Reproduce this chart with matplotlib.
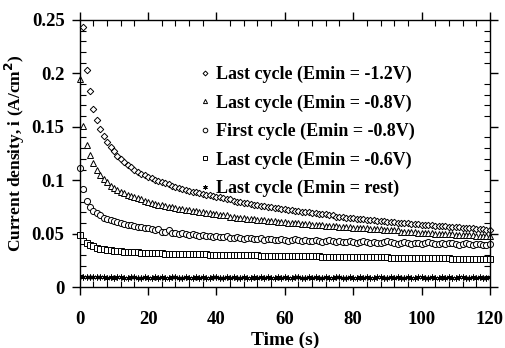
import numpy as np
import matplotlib
matplotlib.use('Agg')
import matplotlib.pyplot as plt
from matplotlib.ticker import MultipleLocator

plt.rcParams['font.family'] = ['Liberation Serif', 'DejaVu Serif']
plt.rcParams['font.weight'] = 'bold'
plt.rcParams['mathtext.default'] = 'bf'

# 时间 (s)
t_full = np.arange(0, 121)
t_from1 = np.arange(1, 121)

# Last cycle (Emin = -1.2V), t = 1..120
i_m12 = [0.243, 0.203, 0.183, 0.167, 0.156, 0.148, 0.141, 0.136, 0.131, 0.127,
         0.123, 0.120, 0.117, 0.114, 0.112, 0.110, 0.108, 0.106, 0.105, 0.103,
         0.102, 0.100, 0.099, 0.098, 0.097, 0.096, 0.095, 0.094, 0.093, 0.092,
         0.091, 0.090, 0.089, 0.089, 0.088, 0.087, 0.086, 0.086, 0.085, 0.084,
         0.084, 0.083, 0.082, 0.082, 0.081, 0.080, 0.080, 0.079, 0.079, 0.078,
         0.077, 0.077, 0.076, 0.076, 0.075, 0.075, 0.074, 0.074, 0.073, 0.073,
         0.072, 0.072, 0.071, 0.071, 0.070, 0.070, 0.070, 0.069, 0.069, 0.068,
         0.068, 0.068, 0.067, 0.067, 0.066, 0.066, 0.066, 0.065, 0.065, 0.065,
         0.064, 0.064, 0.064, 0.063, 0.063, 0.063, 0.062, 0.062, 0.062, 0.061,
         0.061, 0.061, 0.060, 0.060, 0.060, 0.060, 0.059, 0.059, 0.059, 0.058,
         0.058, 0.058, 0.058, 0.057, 0.057, 0.057, 0.057, 0.056, 0.056, 0.056,
         0.056, 0.055, 0.055, 0.055, 0.055, 0.054, 0.054, 0.054, 0.053, 0.053]

# Last cycle (Emin = -0.8V), t = 0..120
i_m08 = [0.195, 0.151, 0.133, 0.124, 0.116, 0.110, 0.105, 0.101, 0.098, 0.095, 0.093,
         0.091, 0.089, 0.088, 0.086, 0.085, 0.084, 0.083, 0.082, 0.081, 0.080,
         0.079, 0.078, 0.077, 0.077, 0.076, 0.075, 0.075, 0.074, 0.073, 0.073,
         0.072, 0.072, 0.071, 0.071, 0.070, 0.070, 0.069, 0.069, 0.068, 0.068,
         0.067, 0.067, 0.067, 0.066, 0.066, 0.065, 0.065, 0.065, 0.064, 0.064,
         0.064, 0.063, 0.063, 0.063, 0.062, 0.062, 0.062, 0.061, 0.061, 0.061,
         0.060, 0.060, 0.060, 0.060, 0.059, 0.059, 0.059, 0.058, 0.058, 0.058,
         0.058, 0.057, 0.057, 0.057, 0.057, 0.056, 0.056, 0.056, 0.056, 0.055,
         0.055, 0.055, 0.055, 0.055, 0.054, 0.054, 0.054, 0.054, 0.053, 0.053,
         0.053, 0.053, 0.053, 0.052, 0.052, 0.052, 0.052, 0.052, 0.051, 0.051,
         0.051, 0.051, 0.051, 0.050, 0.050, 0.050, 0.050, 0.050, 0.050, 0.049,
         0.049, 0.049, 0.049, 0.049, 0.049, 0.048, 0.048, 0.048, 0.048, 0.048]

# First cycle (Emin = -0.8V), t = 0..120
i_first = [0.111, 0.092, 0.081, 0.075, 0.071, 0.069, 0.067, 0.065, 0.064, 0.063, 0.062,
           0.061, 0.060, 0.059, 0.058, 0.058, 0.057, 0.056, 0.056, 0.055, 0.055,
           0.054, 0.053, 0.054, 0.052, 0.052, 0.053, 0.051, 0.051, 0.050, 0.051,
           0.050, 0.049, 0.050, 0.049, 0.048, 0.049, 0.048, 0.048, 0.047, 0.048,
           0.047, 0.047, 0.048, 0.046, 0.046, 0.047, 0.046, 0.045, 0.046, 0.046,
           0.045, 0.045, 0.046, 0.044, 0.045, 0.045, 0.044, 0.044, 0.045, 0.044,
           0.043, 0.044, 0.045, 0.044, 0.043, 0.044, 0.043, 0.043, 0.044, 0.043,
           0.042, 0.043, 0.044, 0.043, 0.042, 0.043, 0.042, 0.042, 0.043, 0.042,
           0.041, 0.042, 0.043, 0.042, 0.041, 0.042, 0.041, 0.041, 0.042, 0.043,
           0.042, 0.041, 0.040, 0.041, 0.042, 0.041, 0.040, 0.041, 0.041, 0.040,
           0.041, 0.042, 0.041, 0.040, 0.040, 0.041, 0.040, 0.041, 0.041, 0.040,
           0.039, 0.040, 0.041, 0.040, 0.039, 0.040, 0.040, 0.039, 0.039, 0.040]

# Last cycle (Emin = -0.6V), t = 0..120
i_m06 = [0.049, 0.043, 0.041, 0.039, 0.038, 0.037, 0.036, 0.0355, 0.035, 0.0345, 0.034,
         0.0338, 0.0335, 0.0333, 0.033, 0.0328, 0.0326, 0.0324, 0.0322, 0.032, 0.0319,
         0.0318, 0.0317, 0.0316, 0.0315, 0.0314, 0.0313, 0.0312, 0.0311, 0.031, 0.031,
         0.0309, 0.0308, 0.0307, 0.0307, 0.0306, 0.0305, 0.0305, 0.0304, 0.0303, 0.0302,
         0.0302, 0.0301, 0.030, 0.030, 0.0299, 0.0299, 0.0298, 0.0298, 0.0297, 0.0297,
         0.0296, 0.0296, 0.0295, 0.0295, 0.0294, 0.0294, 0.0293, 0.0293, 0.0292, 0.0292,
         0.0291, 0.0291, 0.0290, 0.0290, 0.0289, 0.0289, 0.0288, 0.0288, 0.0287, 0.0287,
         0.0286, 0.0286, 0.0285, 0.0285, 0.0284, 0.0284, 0.0283, 0.0283, 0.0282, 0.0282,
         0.0281, 0.0281, 0.0280, 0.0280, 0.0279, 0.0279, 0.0278, 0.0278, 0.0277, 0.0277,
         0.0276, 0.0276, 0.0275, 0.0275, 0.0274, 0.0274, 0.0273, 0.0273, 0.0272, 0.0272,
         0.0271, 0.0271, 0.0270, 0.0270, 0.0269, 0.0269, 0.0268, 0.0268, 0.0267, 0.0267,
         0.0266, 0.0266, 0.0265, 0.0265, 0.0264, 0.0264, 0.0263, 0.0263, 0.0262, 0.0262]

# Last cycle (Emin = rest), t = 0..120
i_rest = [0.0105, 0.0098, 0.0094, 0.0092, 0.0095, 0.0091, 0.0090, 0.0093, 0.0089, 0.0091, 0.0088,
          0.0090, 0.0092, 0.0089, 0.0087, 0.0090, 0.0091, 0.0088, 0.0089, 0.0092, 0.0088,
          0.0087, 0.0090, 0.0089, 0.0091, 0.0088, 0.0087, 0.0090, 0.0092, 0.0089, 0.0088,
          0.0090, 0.0087, 0.0089, 0.0091, 0.0088, 0.0090, 0.0089, 0.0087, 0.0090, 0.0092,
          0.0088, 0.0089, 0.0091, 0.0087, 0.0090, 0.0088, 0.0089, 0.0092, 0.0088, 0.0087,
          0.0090, 0.0089, 0.0091, 0.0088, 0.0090, 0.0087, 0.0089, 0.0091, 0.0088, 0.0090,
          0.0089, 0.0087, 0.0090, 0.0092, 0.0088, 0.0089, 0.0091, 0.0087, 0.0090, 0.0088,
          0.0089, 0.0091, 0.0088, 0.0087, 0.0090, 0.0092, 0.0089, 0.0088, 0.0090, 0.0087,
          0.0089, 0.0091, 0.0088, 0.0090, 0.0089, 0.0087, 0.0090, 0.0092, 0.0088, 0.0089,
          0.0091, 0.0087, 0.0090, 0.0088, 0.0089, 0.0091, 0.0088, 0.0087, 0.0090, 0.0092,
          0.0089, 0.0088, 0.0090, 0.0087, 0.0089, 0.0091, 0.0088, 0.0090, 0.0089, 0.0087,
          0.0090, 0.0092, 0.0088, 0.0089, 0.0091, 0.0087, 0.0090, 0.0088, 0.0089, 0.0091]

labels = ['Last cycle (Emin = -1.2V)', 'Last cycle (Emin = -0.8V)',
          'First cycle (Emin = -0.8V)', 'Last cycle (Emin = -0.6V)',
          'Last cycle (Emin = rest)']

fig = plt.figure(figsize=(5.05, 3.48), dpi=100)
ax = fig.add_axes([0.158, 0.175, 0.812, 0.768])

kw = dict(linestyle='none', markerfacecolor='white', markeredgecolor='black',
          markeredgewidth=0.7, clip_on=False)
ax.plot(t_from1, i_m12, marker='D', markersize=3.3, label=labels[0], **kw)
ax.plot(t_full, i_m08, marker='^', markersize=4.0, label=labels[1], **kw)
ax.plot(t_full, i_first, marker='o', markersize=4.4, label=labels[2], **kw)
ax.plot(t_full, i_m06, marker='s', markersize=3.7, label=labels[3], **kw)
ax.plot(t_full, i_rest, marker=(6, 2, 0), markersize=4.2, linestyle='none',
        color='black', markeredgewidth=0.7, label=labels[4])

ax.set_xlim(0, 120)
ax.set_ylim(0, 0.25)
ax.set_xticks([0, 20, 40, 60, 80, 100, 120])
ax.set_yticks([0, 0.05, 0.1, 0.15, 0.2, 0.25])
ax.set_yticklabels(['0', '0.05', '0.1', '0.15', '0.2', '0.25'])
ax.xaxis.set_minor_locator(MultipleLocator(4))
ax.yaxis.set_minor_locator(MultipleLocator(0.01))
ax.tick_params(which='major', direction='out', length=6, width=1, labelsize=13.5)
ax.tick_params(axis='x', which='major', pad=11)
ax.tick_params(axis='y', which='major', pad=5)
ax.tick_params(which='minor', direction='in', length=4, width=0.8)
ax.tick_params(which='both', top=True, right=True)

for s in ax.spines.values():
    s.set_linewidth(1)

ax.set_xlabel('Time (s)', fontsize=14, fontweight='bold', labelpad=3)
ax.set_ylabel('Current density, i (A/cm$^2$)', fontsize=12.5, fontweight='bold', labelpad=3)

ax.legend(loc='upper left', bbox_to_anchor=(0.274, 0.855), frameon=False,
          fontsize=13, handlelength=0.6, handletextpad=0.3, labelspacing=0.62,
          markerscale=0.75, borderaxespad=0)

fig.savefig('out.png', dpi=100)
